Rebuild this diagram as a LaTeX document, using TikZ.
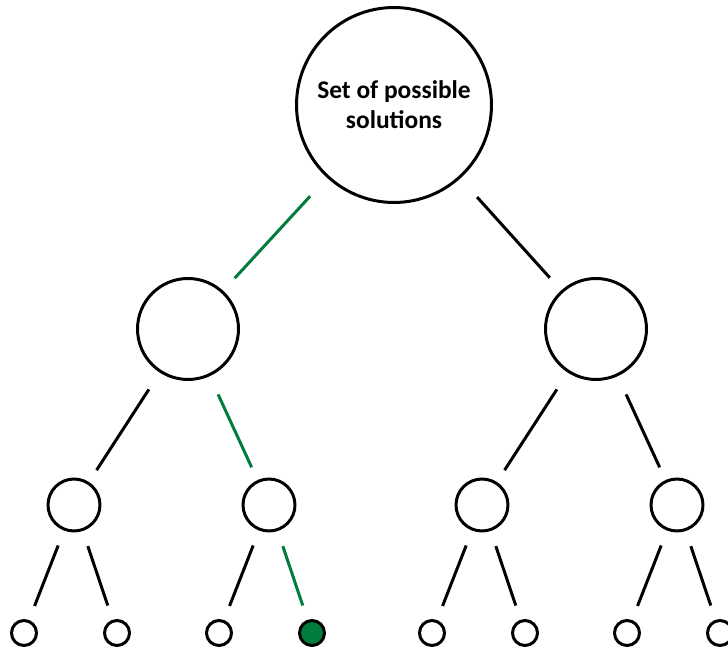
\documentclass[tikz,border=0pt]{standalone}
\usepackage{fontspec}
\setmainfont{Carlito}
\usepackage{tikz}
\usetikzlibrary{positioning}

\definecolor{pathgreen}{RGB}{0,125,60}

\begin{document}
\begin{tikzpicture}[
  x=0.02cm, y=-0.02cm,
  font=\bfseries\fontsize{14.5}{17}\selectfont,
  state/.style={circle, draw, line width=1.7pt, inner sep=0pt, align=center},
  big/.style={state, minimum size=3.9cm},
  mid/.style={state, minimum size=2.02cm},
  small/.style={state, minimum size=1.04cm},
  leaf/.style={state, minimum size=0.5cm},
  goal/.style={leaf, fill=pathgreen},
  edge/.style={line width=1.7pt},
  chosen/.style={edge, draw=pathgreen},
  top/.style={shorten <=0.5cm, shorten >=0.34cm},
  midl/.style={shorten <=0.4cm, shorten >=0.28cm},
  low/.style={shorten <=0.32cm, shorten >=0.3cm}
]
\useasboundingbox (0,0) rectangle (728,651);

% root
\node[big] (root) at (394,105) {Set of possible\\solutions};

% second level
\node[mid] (a) at (188,329) {};
\node[mid] (b) at (596,329) {};

% third level
\node[small] (aa) at (74,505) {};
\node[small] (ab) at (269,505) {};
\node[small] (ba) at (482,505) {};
\node[small] (bb) at (677,505) {};

% leaves
\node[leaf] (aaa) at (24,633) {};
\node[leaf] (aab) at (117,633) {};
\node[leaf] (aba) at (219,633) {};
\node[goal] (abb) at (312,633) {};
\node[leaf] (baa) at (432,633) {};
\node[leaf] (bab) at (525,633) {};
\node[leaf] (bba) at (627,633) {};
\node[leaf] (bbb) at (720,633) {};

\draw[chosen, top] (root) -- (a);
\draw[edge, top] (root) -- (b);

\draw[edge, midl] (a) -- (aa);
\draw[chosen, midl] (a) -- (ab);
\draw[edge, midl] (b) -- (ba);
\draw[edge, midl] (b) -- (bb);

\draw[edge, low] (aa) -- (aaa);
\draw[edge, low] (aa) -- (aab);
\draw[edge, low] (ab) -- (aba);
\draw[chosen, low] (ab) -- (abb);
\draw[edge, low] (ba) -- (baa);
\draw[edge, low] (ba) -- (bab);
\draw[edge, low] (bb) -- (bba);
\draw[edge, low] (bb) -- (bbb);

\end{tikzpicture}
\end{document}
